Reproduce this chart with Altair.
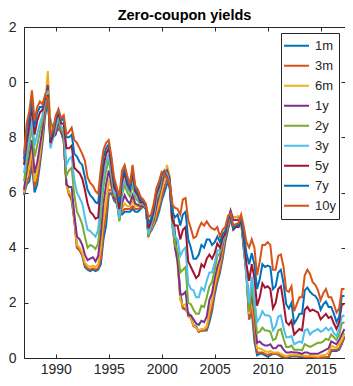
import altair as alt
import pandas as pd

# ---- data (quarterly) ----
start_year = 1987.0
step_years = 0.25

m1 = [5.9, 6.3, 6.4, 7.0, 6.0, 6.3, 7.0, 7.8, 8.8, 9.3,
      8.6, 8.3, 8.2, 8.3, 8.2, 7.9, 6.35, 6.0, 5.7, 5.0,
      4.0, 3.9, 3.7, 3.3, 3.2, 3.15, 3.2, 3.15, 3.2, 3.4,
      4.3, 4.8, 5.9, 6.0, 5.7, 5.6, 5.3, 5.2, 5.3, 5.3,
      5.3, 5.4, 5.3, 5.3, 5.4, 5.5, 5.4, 4.5, 4.6, 4.8,
      5.0, 5.3, 5.7, 6.0, 6.3, 6.4, 5.6, 4.5, 3.6, 2.4,
      1.8, 1.75, 1.65, 1.45, 1.2, 1.15, 0.95, 1.0, 1.0, 1.0,
      1.3, 1.7, 2.3, 2.75, 3.1, 3.6, 4.2, 4.65, 5.0, 5.0,
      5.0, 5.0, 4.9, 3.9, 3.0, 1.4, 1.7, 0.6, 0.1, 0.15,
      0.15, 0.1, 0.05, 0.1, 0.15, 0.15, 0.12, 0.05, 0.02, 0.02,
      0.03, 0.05, 0.05, 0.05, 0.04, 0.04, 0.03, 0.03, 0.03, 0.03,
      0.02, 0.02, 0.02, 0.02, 0.02, 0.02, 0.25, 0.25, 0.25, 0.3,
      0.5, 0.75]
m3 = [5.95, 6.4, 6.6, 7.3, 6.2, 6.5, 7.2, 8.0, 9.0, 9.7,
      8.5, 8.2, 8.2, 8.4, 8.2, 7.9, 6.3, 5.9, 5.8, 5.0,
      4.0, 3.9, 3.75, 3.35, 3.25, 3.2, 3.25, 3.2, 3.25, 3.6,
      4.6, 5.2, 6.1, 6.1, 5.75, 5.65, 5.2, 5.3, 5.4, 5.4,
      5.4, 5.5, 5.4, 5.4, 5.45, 5.5, 5.45, 4.45, 4.65, 4.85,
      5.1, 5.45, 5.85, 6.2, 6.5, 6.5, 5.4, 4.3, 3.5, 2.2,
      1.8, 1.8, 1.6, 1.45, 1.15, 1.1, 0.95, 1.0, 1.0, 1.05,
      1.45, 1.85, 2.45, 2.85, 3.2, 3.75, 4.35, 4.75, 5.1, 5.1,
      5.1, 5.1, 5.0, 4.0, 3.1, 1.4, 1.8, 0.9, 0.2, 0.2,
      0.2, 0.15, 0.1, 0.15, 0.15, 0.15, 0.15, 0.08, 0.04, 0.03,
      0.05, 0.08, 0.08, 0.08, 0.07, 0.06, 0.04, 0.04, 0.04, 0.04,
      0.03, 0.02, 0.03, 0.02, 0.03, 0.05, 0.3, 0.3, 0.3, 0.35,
      0.55, 0.8]
m6 = [6.0, 6.6, 6.9, 7.6, 6.4, 6.8, 7.4, 8.2, 9.3, 10.4,
      8.4, 8.1, 8.2, 8.5, 8.2, 7.9, 6.3, 6.0, 5.9, 5.05,
      4.1, 4.0, 3.8, 3.45, 3.35, 3.3, 3.35, 3.3, 3.4, 4.0,
      5.0, 5.7, 6.4, 6.2, 5.8, 5.7, 5.1, 5.4, 5.6, 5.5,
      5.5, 5.7, 5.5, 5.5, 5.5, 5.5, 5.5, 4.4, 4.7, 4.9,
      5.3, 5.6, 6.1, 6.5, 7.0, 6.6, 5.1, 4.1, 3.4, 2.1,
      1.9, 1.95, 1.5, 1.45, 1.2, 1.1, 1.0, 1.05, 1.05, 1.15,
      1.7, 2.1, 2.65, 3.05, 3.45, 3.95, 4.5, 4.9, 5.3, 5.1,
      5.1, 5.15, 5.1, 4.2, 3.2, 1.6, 2.0, 1.4, 0.35, 0.35,
      0.3, 0.25, 0.2, 0.25, 0.2, 0.2, 0.2, 0.15, 0.1, 0.06,
      0.1, 0.12, 0.12, 0.12, 0.11, 0.1, 0.08, 0.08, 0.08, 0.07,
      0.06, 0.05, 0.08, 0.1, 0.12, 0.2, 0.45, 0.4, 0.38, 0.5,
      0.65, 0.9]
y1 = [6.1, 6.8, 7.3, 7.9, 6.7, 7.1, 7.7, 8.3, 9.3, 9.9,
      7.9, 8.0, 8.1, 8.6, 8.2, 7.9, 6.3, 6.2, 6.2, 5.2,
      4.4, 4.3, 4.1, 3.75, 3.55, 3.6, 3.65, 3.5, 3.7, 4.5,
      5.6, 6.3, 6.8, 6.3, 5.8, 5.7, 5.0, 5.6, 5.9, 5.7,
      5.6, 5.9, 5.6, 5.55, 5.5, 5.5, 5.45, 4.4, 4.75, 5.0,
      5.5, 5.9, 6.3, 6.7, 6.8, 6.5, 4.9, 4.0, 3.5, 2.3,
      2.3, 2.4, 1.55, 1.55, 1.4, 1.25, 1.2, 1.35, 1.3, 1.5,
      2.1, 2.35, 2.9, 3.3, 3.6, 4.1, 4.55, 5.0, 5.35, 5.0,
      5.0, 5.0, 5.0, 4.2, 3.1, 1.7, 2.3, 1.6, 0.55, 0.6,
      0.5, 0.45, 0.45, 0.5, 0.35, 0.35, 0.45, 0.45, 0.3, 0.2,
      0.2, 0.22, 0.2, 0.2, 0.18, 0.15, 0.2, 0.2, 0.15, 0.15,
      0.15, 0.15, 0.2, 0.25, 0.3, 0.35, 0.6, 0.55, 0.5, 0.65,
      0.85, 1.05]
y2 = [6.4, 7.1, 7.7, 8.4, 7.3, 7.7, 8.2, 8.6, 9.4, 9.7,
      7.7, 8.0, 8.3, 8.7, 8.3, 8.1, 6.6, 6.8, 6.9, 5.9,
      5.3, 5.1, 4.85, 4.4, 4.0, 4.1, 4.05, 3.95, 4.15, 5.2,
      6.2, 6.8, 7.2, 6.6, 5.9, 5.8, 4.95, 5.9, 6.3, 6.0,
      5.85, 6.3, 5.8, 5.7, 5.55, 5.6, 5.45, 4.4, 4.8, 5.1,
      5.75, 6.0, 6.5, 6.8, 6.7, 6.3, 4.75, 4.1, 3.9, 3.1,
      3.2, 3.3, 2.0, 1.95, 1.75, 1.6, 1.6, 1.9, 1.85, 2.2,
      2.6, 2.75, 3.2, 3.7, 3.8, 4.2, 4.5, 4.95, 5.2, 4.8,
      4.85, 4.8, 4.9, 4.1, 2.9, 1.7, 2.6, 1.8, 0.9, 0.95,
      1.1, 1.0, 1.0, 0.95, 0.65, 0.7, 1.0, 1.05, 0.7, 0.4,
      0.4, 0.45, 0.3, 0.3, 0.3, 0.28, 0.5, 0.45, 0.4, 0.45,
      0.5, 0.55, 0.55, 0.6, 0.7, 0.65, 0.85, 0.75, 0.65, 0.85,
      1.25, 1.3]
y3 = [6.7, 7.4, 8.0, 8.7, 7.7, 8.1, 8.5, 8.8, 9.45, 9.6,
      7.6, 8.0, 8.4, 8.8, 8.4, 8.3, 7.0, 7.2, 7.3, 6.45,
      6.0, 5.8, 5.6, 5.1, 4.65, 4.6, 4.5, 4.4, 4.65, 5.7,
      6.6, 7.1, 7.4, 6.8, 6.0, 5.9, 5.05, 6.1, 6.5, 6.15,
      6.0, 6.5, 5.95, 5.8, 5.6, 5.6, 5.45, 4.5, 4.85, 5.2,
      5.85, 6.1, 6.6, 6.8, 6.65, 6.25, 4.8, 4.4, 4.3, 3.7,
      3.9, 4.0, 2.7, 2.5, 2.45, 2.2, 2.2, 2.55, 2.45, 2.8,
      3.1, 3.1, 3.45, 3.9, 3.9, 4.25, 4.5, 4.95, 5.15, 4.7,
      4.8, 4.75, 4.95, 4.15, 3.0, 2.0, 2.95, 2.2, 1.3, 1.45,
      1.7, 1.55, 1.55, 1.5, 1.0, 1.15, 1.5, 1.55, 1.1, 0.75,
      0.75, 0.8, 0.5, 0.55, 0.6, 0.55, 1.0, 1.05, 0.85, 0.95,
      1.0, 1.05, 0.95, 1.0, 1.1, 1.0, 1.1, 0.9, 0.8, 1.05,
      1.5, 1.55]
y5 = [7.0, 7.8, 8.4, 9.1, 8.1, 8.6, 8.9, 9.0, 9.45, 9.5,
      7.8, 8.1, 8.6, 8.9, 8.5, 8.5, 7.6, 7.6, 7.7, 6.9,
      6.8, 6.7, 6.5, 6.1, 5.6, 5.3, 5.2, 5.05, 5.1, 6.2,
      6.95, 7.4, 7.6, 7.0, 6.2, 6.0, 5.4, 6.4, 6.7, 6.3,
      6.1, 6.7, 6.05, 5.9, 5.65, 5.65, 5.5, 4.7, 4.95, 5.35,
      5.95, 6.2, 6.65, 6.75, 6.55, 6.2, 5.0, 4.8, 4.8, 4.3,
      4.65, 4.75, 3.5, 3.3, 3.1, 2.9, 3.0, 3.4, 3.3, 3.6,
      3.75, 3.6, 3.8, 4.15, 4.0, 4.35, 4.5, 5.0, 5.15, 4.65,
      4.75, 4.75, 5.0, 4.3, 3.4, 2.8, 3.4, 2.9, 1.9, 2.2,
      2.7, 2.55, 2.6, 2.5, 1.8, 2.0, 2.5, 2.6, 2.0, 1.3,
      1.2, 1.35, 0.85, 0.95, 1.05, 1.0, 1.75, 1.85, 1.7, 1.75,
      1.7, 1.65, 1.4, 1.5, 1.6, 1.45, 1.5, 1.25, 1.05, 1.3,
      1.95, 1.95]
y7 = [7.2, 8.2, 8.7, 9.4, 8.4, 8.9, 9.1, 9.1, 9.5, 9.4,
      8.0, 8.2, 8.7, 9.0, 8.6, 8.7, 8.0, 8.0, 8.1, 7.4,
      7.3, 7.1, 7.0, 6.55, 6.1, 5.9, 5.8, 5.65, 5.6, 6.6,
      7.3, 7.6, 7.75, 7.2, 6.4, 6.1, 5.65, 6.6, 6.85, 6.45,
      6.2, 6.85, 6.15, 6.0, 5.75, 5.7, 5.55, 4.9, 5.05, 5.5,
      6.05, 6.3, 6.7, 6.7, 6.5, 6.2, 5.3, 5.1, 5.2, 4.8,
      5.2, 5.3, 4.3, 4.0, 3.6, 3.6, 3.75, 4.1, 4.0, 4.3,
      4.3, 4.1, 4.2, 4.4, 4.2, 4.5, 4.6, 5.05, 5.15, 4.7,
      4.8, 4.8, 5.1, 4.5, 3.8, 3.4, 3.8, 3.4, 2.5, 2.85,
      3.4, 3.3, 3.35, 3.3, 2.5, 2.6, 3.1, 3.2, 2.7, 1.95,
      1.8, 2.0, 1.25, 1.4, 1.6, 1.6, 2.45, 2.55, 2.4, 2.3,
      2.25, 2.1, 1.75, 1.95, 2.05, 1.85, 1.85, 1.6, 1.3, 1.5,
      2.25, 2.25]
y10 = [7.4, 8.5, 8.95, 9.7, 8.6, 9.1, 9.3, 9.2, 9.55, 9.4,
       8.1, 8.3, 8.8, 9.0, 8.7, 8.8, 8.1, 8.2, 8.35, 7.9,
       7.8, 7.6, 7.4, 7.15, 6.55, 6.35, 6.25, 6.05, 5.95, 6.85,
       7.55, 7.8, 7.9, 7.3, 6.55, 6.2, 5.85, 6.8, 7.0, 6.6,
       6.3, 7.0, 6.25, 6.1, 5.85, 5.75, 5.6, 5.1, 5.2, 5.6,
       6.15, 6.4, 6.75, 6.7, 6.5, 6.3, 5.55, 5.45, 5.4, 5.2,
       5.75, 5.8, 5.0, 4.7, 4.35, 4.4, 4.7, 4.9, 4.8, 4.95,
       4.8, 4.7, 4.65, 4.75, 4.4, 4.65, 4.75, 5.15, 5.25, 4.8,
       4.85, 4.9, 5.2, 4.75, 4.2, 4.0, 4.3, 4.0, 3.0, 3.5,
       4.1, 4.1, 4.2, 4.1, 3.2, 3.2, 3.7, 3.75, 3.3, 2.45,
       2.4, 2.6, 1.7, 1.95, 2.2, 2.2, 3.0, 3.2, 3.05, 2.75,
       2.65, 2.45, 2.1, 2.35, 2.5, 2.2, 2.2, 1.95, 1.65, 1.8,
       2.5, 2.5]

series_names = ["1m", "3m", "6m", "1y", "2y", "3y", "5y", "7y", "10y"]
series_values = [m1, m3, m6, y1, y2, y3, y5, y7, y10]
series_colors = ["#0072BD", "#D95319", "#EDB120", "#7E2F8E", "#77AC30",
                 "#4DBEEE", "#A2142F", "#0072BD", "#D95319"]
x_ticks = [1990, 1995, 2000, 2005, 2010, 2015]
y_ticks = [0, 2, 4, 6, 8, 10, 12]
x_domain = [1987.0, 2017.3]
y_domain = [0, 12]

rows = []
for k, (name, vals) in enumerate(zip(series_names, series_values)):
    for i, v in enumerate(vals):
        rows.append({"t": start_year + step_years * i, "v": v, "series": name, "k": k})
df = pd.DataFrame(rows)
anchor = pd.DataFrame({"t": [2000.0], "v": [6.0]})

W, H = 321, 331
FONT = "Arial, Liberation Sans, Helvetica, sans-serif"
AX = "#262626"

xs = alt.Scale(domain=x_domain, nice=False, zero=False)
ys = alt.Scale(domain=y_domain, nice=False, zero=False)

lines = alt.Chart(df).mark_line(strokeWidth=2).encode(
    x=alt.X("t:Q", scale=xs, axis=alt.Axis(
        orient="bottom", values=x_ticks, format="d", title=None, grid=False,
        ticks=False, tickSize=0, labelPadding=4, labelFontSize=14, labelFont=FONT,
        labelColor=AX, domainColor=AX, domainWidth=1)),
    y=alt.Y("v:Q", scale=ys, axis=alt.Axis(
        orient="left", values=y_ticks, format="d", title=None, grid=False,
        ticks=False, tickSize=0, labelPadding=8, labelFontSize=14, labelFont=FONT,
        labelColor=AX, domainColor=AX, domainWidth=1)),
    color=alt.Color("series:N", scale=alt.Scale(domain=series_names, range=series_colors),
                    legend=alt.Legend(orient="none", legendX=257, legendY=6, title=None,
                                      symbolType="M-3,0H3", symbolSize=107, symbolStrokeWidth=2,
                                      symbolOffset=3, clipHeight=19.7,
                                      labelFontSize=13, labelFont=FONT, labelColor=AX,
                                      labelOffset=15, strokeColor=AX, fillColor="white",
                                      padding=3, rowPadding=0)),
    detail="k:O",
)

tick_a = alt.Chart(anchor).mark_point(opacity=0).encode(
    x=alt.X("t:Q", scale=xs, axis=alt.Axis(
        orient="top", offset=-H, values=x_ticks, labels=False, domain=False, grid=False,
        title=None, ticks=True, tickSize=4, tickColor=AX, tickWidth=1)),
    y=alt.Y("v:Q", scale=ys, axis=alt.Axis(
        orient="right", offset=-W, values=y_ticks, labels=False, domain=False, grid=False,
        title=None, ticks=True, tickSize=4, tickColor=AX, tickWidth=1)),
)

tick_b = alt.Chart(anchor).mark_point(opacity=0).encode(
    x=alt.X("t:Q", scale=xs, axis=alt.Axis(
        orient="bottom", offset=-H, values=x_ticks, labels=False, domain=True,
        domainColor=AX, domainWidth=1, grid=False,
        title=None, ticks=True, tickSize=4, tickColor=AX, tickWidth=1)),
    y=alt.Y("v:Q", scale=ys, axis=alt.Axis(
        orient="left", offset=-W, values=y_ticks, labels=False, domain=False, grid=False,
        title=None, ticks=True, tickSize=4, tickColor=AX, tickWidth=1)),
)

chart = alt.layer(lines, tick_a, tick_b).resolve_scale(
    x="shared", y="shared"
).resolve_axis(
    x="independent", y="independent"
).properties(
    width=W, height=H,
    title=alt.TitleParams(text="Zero-coupon yields", fontSize=14.5, fontWeight="bold",
                          font=FONT, color="black", offset=-3, anchor="middle", frame="group"),
    autosize=alt.AutoSizeParams(type="none"),
    padding={"left": 16, "top": 19, "right": 0, "bottom": 18},
    background="white",
).configure_view(stroke=None)

chart.save("out.html", embed_options={"renderer": "svg", "actions": False})
